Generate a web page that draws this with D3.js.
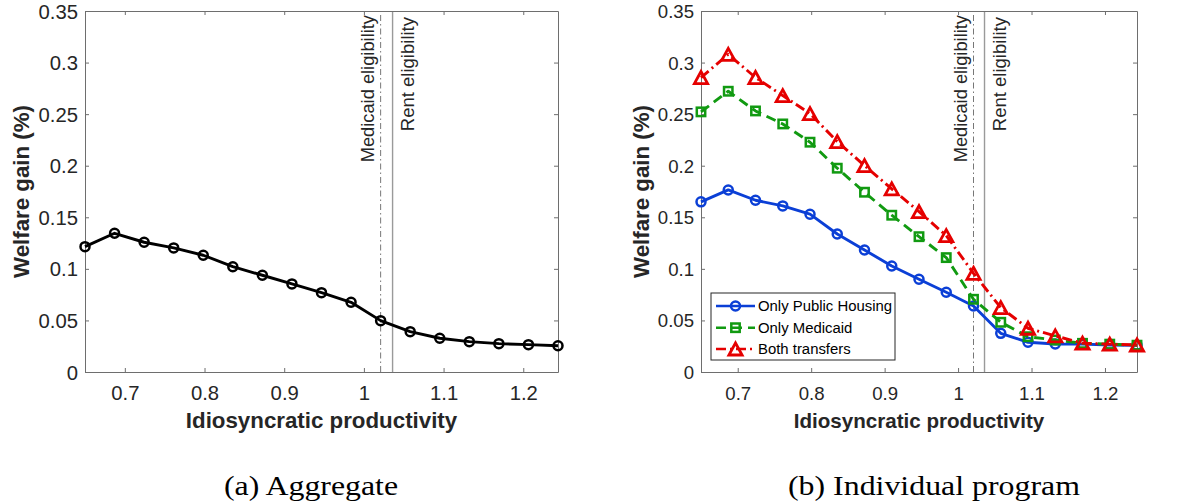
<!DOCTYPE html>
<html>
<head>
<meta charset="utf-8">
<script src="https://cdn.jsdelivr.net/npm/d3@7"></script>
<style>
  html, body { margin: 0; padding: 0; background: #fff; }
  svg { display: block; }
</style>
</head>
<body>
<svg id="chart" width="1186" height="504"></svg>
<script>
// ---------- data ----------
const productivity = [0.65, 0.6871, 0.7242, 0.7613, 0.7984, 0.8355, 0.8726, 0.9097, 0.9468, 0.9839, 1.021, 1.0581, 1.0952, 1.1323, 1.1694, 1.2065, 1.2436];
const aggregate = [0.1215, 0.1345, 0.1258, 0.1203, 0.1132, 0.1021, 0.0938, 0.0854, 0.0769, 0.0676, 0.0498, 0.0391, 0.0327, 0.0294, 0.0275, 0.0265, 0.0255];
const onlyPublicHousing = [0.165, 0.1765, 0.1665, 0.161, 0.153, 0.1338, 0.1183, 0.1028, 0.0899, 0.0773, 0.064, 0.0375, 0.0288, 0.0272, 0.027, 0.0262, 0.026];
const onlyMedicaid = [0.2522, 0.2722, 0.2531, 0.2405, 0.2228, 0.1976, 0.1743, 0.152, 0.1312, 0.1109, 0.0705, 0.0482, 0.0342, 0.031, 0.0278, 0.027, 0.026];
const bothTransfers = [0.2855, 0.308, 0.2855, 0.268, 0.2505, 0.2234, 0.2001, 0.1775, 0.1555, 0.1322, 0.0957, 0.0624, 0.0424, 0.035, 0.028, 0.027, 0.0262];
const seriesNames = ["Only Public Housing", "Only Medicaid", "Both transfers"];
const medicaidEligibility = 1.021;
const rentEligibility = 1.036;
const xTicks = [0.7, 0.8, 0.9, 1, 1.1, 1.2];
const yTicks = [0, 0.05, 0.1, 0.15, 0.2, 0.25, 0.3, 0.35];
const xTickLabels = ["0.7", "0.8", "0.9", "1", "1.1", "1.2"];
const yTickLabels = ["0", "0.05", "0.1", "0.15", "0.2", "0.25", "0.3", "0.35"];
const captions = ["(a) Aggregate", "(b) Individual program"];
const xLabel = "Idiosyncratic productivity";
const yLabel = "Welfare gain (%)";

// ---------- drawing ----------
const svg = d3.select("#chart");
const FONT = "'Liberation Sans', Arial, Helvetica, sans-serif";
const AXC = "#262626";

function drawPanel(cfg) {
  const x = d3.scaleLinear().domain([productivity[0], productivity[productivity.length - 1]]).range([cfg.left, cfg.right]);
  const y = d3.scaleLinear().domain([0, 0.35]).range([cfg.bottom, cfg.top]);
  const g = svg.append("g");
  const tl = 4;

  // vertical eligibility lines
  g.append("line").attr("x1", x(medicaidEligibility)).attr("x2", x(medicaidEligibility))
    .attr("y1", y(0)).attr("y2", y(0.35))
    .attr("stroke", "#777").attr("stroke-width", 1).attr("stroke-dasharray", "6,3,1.5,3");
  g.append("line").attr("x1", x(rentEligibility)).attr("x2", x(rentEligibility))
    .attr("y1", y(0)).attr("y2", y(0.35))
    .attr("stroke", "#9a9a9a").attr("stroke-width", 1.4);

  // axes (ticks inward, mirrored)
  const axB = d3.axisBottom(x).tickValues(xTicks).tickFormat((d, i) => xTickLabels[i]).tickSizeInner(-tl).tickSizeOuter(0).tickPadding(8);
  const axT = d3.axisTop(x).tickValues(xTicks).tickFormat("").tickSizeInner(-tl).tickSizeOuter(0);
  const axL = d3.axisLeft(y).tickValues(yTicks).tickFormat((d, i) => yTickLabels[i]).tickSizeInner(-tl).tickSizeOuter(0).tickPadding(7);
  const axR = d3.axisRight(y).tickValues(yTicks).tickFormat("").tickSizeInner(-tl).tickSizeOuter(0);

  const gb = g.append("g").attr("transform", `translate(0,${cfg.bottom})`).call(axB);
  const gt = g.append("g").attr("transform", `translate(0,${cfg.top})`).call(axT);
  const gl = g.append("g").attr("transform", `translate(${cfg.left},0)`).call(axL);
  const gr = g.append("g").attr("transform", `translate(${cfg.right},0)`).call(axR);
  [gb, gt, gl, gr].forEach(a => {
    a.select(".domain").attr("stroke", "#6e6e6e").attr("stroke-width", 1);
    a.selectAll(".tick line").attr("stroke", "#6e6e6e").attr("stroke-width", 1);
    a.selectAll(".tick text").attr("fill", AXC).style("font-family", FONT).style("font-size", cfg.tickFs + "px");
  });
  gl.selectAll(".tick text").attr("dy", "0.35em");
  gb.selectAll(".tick text").attr("dy", null).attr("y", cfg.xTickBase - cfg.bottom);

  // axis labels
  g.append("text").attr("x", (cfg.left + cfg.right) / 2 + cfg.xLabelShift).attr("y", 428)
    .attr("text-anchor", "middle").attr("fill", AXC)
    .style("font-family", FONT).style("font-weight", "bold").style("font-size", cfg.xLabelFs + "px")
    .text(xLabel);
  g.append("text").attr("transform", `translate(${cfg.yLabelX},${(cfg.top + cfg.bottom) / 2}) rotate(-90)`)
    .attr("text-anchor", "middle").attr("fill", AXC)
    .style("font-family", FONT).style("font-weight", "bold").style("font-size", "22.3px")
    .text(yLabel);

  // eligibility labels
  g.append("text").attr("transform", `translate(${x(medicaidEligibility) - 7},${cfg.top + 4}) rotate(-90)`)
    .attr("text-anchor", "end").attr("fill", AXC)
    .style("font-family", FONT).style("font-size", "18.3px").text("Medicaid eligibility");
  g.append("text").attr("transform", `translate(${x(rentEligibility) + 21},${cfg.top + 6}) rotate(-90)`)
    .attr("text-anchor", "end").attr("fill", AXC)
    .style("font-family", FONT).style("font-size", "18.5px").text("Rent eligibility");

  return { g, x, y };
}

function drawSeries(p, values, st) {
  const line = d3.line().x((d, i) => p.x(productivity[i])).y(d => p.y(d));
  p.g.append("path").datum(values).attr("d", line).attr("fill", "none")
    .attr("stroke", st.color).attr("stroke-width", 2.9).attr("stroke-linejoin", "round")
    .attr("stroke-dasharray", st.dash || null);
  const pts = p.g.append("g");
  values.forEach((v, i) => drawMarker(pts, p.x(productivity[i]), p.y(v), st));
}

function drawMarker(sel, cx, cy, st) {
  if (st.marker === "circle") {
    sel.append("circle").attr("cx", cx).attr("cy", cy).attr("r", 4.5)
      .attr("fill", "none").attr("stroke", st.color).attr("stroke-width", 2.5);
  } else if (st.marker === "square") {
    sel.append("rect").attr("x", cx - 4.2).attr("y", cy - 4.2).attr("width", 8.4).attr("height", 8.4)
      .attr("fill", "none").attr("stroke", st.color).attr("stroke-width", 2.5);
  } else {
    const w = 6.6, h = 6;
    sel.append("path").attr("d", `M${cx},${cy - h}L${cx + w},${cy + h}L${cx - w},${cy + h}Z`)
      .attr("fill", "none").attr("stroke", st.color).attr("stroke-width", 2.8).attr("stroke-linejoin", "miter");
  }
}

// Panel (a)
const pa = drawPanel({ left: 85, right: 558, top: 11, bottom: 372, tickFs: 20.3, xTickBase: 400, xLabelFs: 22.3, xLabelShift: 0, yLabelX: 29 });
drawSeries(pa, aggregate, { color: "#000", marker: "circle" });

// Panel (b)
const pb = drawPanel({ left: 701, right: 1137, top: 11, bottom: 372, tickFs: 18.6, xTickBase: 400, xLabelFs: 20.6, xLabelShift: 0, yLabelX: 649 });
const styles = [
  { color: "#0b3fd6", marker: "circle" },
  { color: "#119a11", marker: "square", dash: "10,6" },
  { color: "#e50000", marker: "triangle", dash: "10,4,2,4" }
];
[onlyPublicHousing, onlyMedicaid, bothTransfers].forEach((vals, k) => drawSeries(pb, vals, styles[k]));

// legend
const lg = pb.g.append("g");
const lx = 711, ly = 293, lw = 184, lh = 67;
lg.append("rect").attr("x", lx).attr("y", ly).attr("width", lw).attr("height", lh)
  .attr("fill", "#fff").attr("stroke", "#262626").attr("stroke-width", 1);
const rowY = [306, 327.7, 349];
seriesNames.forEach((name, k) => {
  const st = styles[k];
  lg.append("line").attr("x1", lx + 5).attr("x2", lx + 44).attr("y1", rowY[k]).attr("y2", rowY[k])
    .attr("stroke", st.color).attr("stroke-width", 2.6).attr("stroke-dasharray", st.dash || null);
  drawMarker(lg, lx + 24.5, rowY[k], st);
  lg.append("text").attr("x", lx + 47).attr("y", rowY[k]).attr("dy", "0.35em")
    .attr("fill", "#000").style("font-family", FONT).style("font-size", "14.9px").text(name);
});

// captions
const capX = [311, 934];
captions.forEach((c, i) => {
  svg.append("text").attr("x", capX[i]).attr("y", 495).attr("text-anchor", "middle")
    .attr("fill", "#000")
    .style("font-family", "'Liberation Serif', 'Times New Roman', serif").style("font-size", "27px")
    .attr("textLength", i === 0 ? 174 : 292).attr("lengthAdjust", "spacingAndGlyphs")
    .text(c);
});
</script>
</body>
</html>
